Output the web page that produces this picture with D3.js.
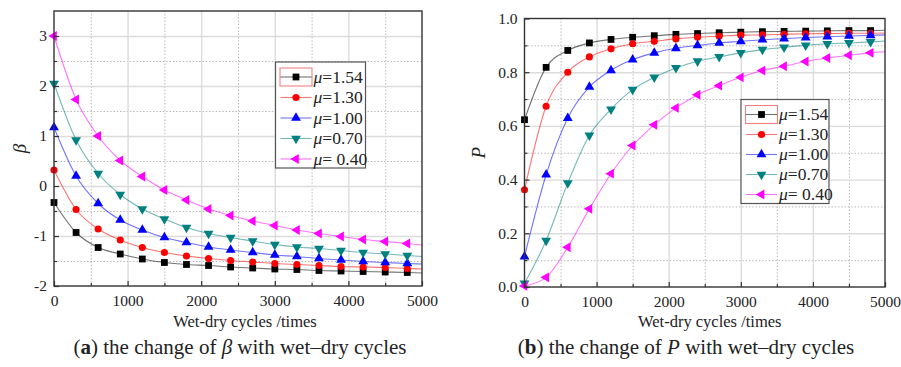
<!DOCTYPE html>
<html>
<head>
<meta charset="utf-8">
<script src="https://cdn.jsdelivr.net/npm/d3@7"></script>
<style>
  body { margin: 0; background: #fff; }
  text { font-family: "Liberation Serif", "Times New Roman", serif; fill: #222; }
</style>
</head>
<body>
<svg id="fig" width="901" height="367"></svg>
<script>
// data (markers every 300 cycles, curves run on to 5000)
const cycles = [0, 300, 600, 900, 1200, 1500, 1800, 2100, 2400, 2700, 3000, 3300, 3600, 3900, 4200, 4500, 4800];
const lineEndCycle = 5000;
const muLabels = ['1.54', '1.30', '1.00', '0.70', ' 0.40'];

const betaMu154 = [-0.33, -0.93, -1.23, -1.36, -1.46, -1.53, -1.57, -1.59, -1.62, -1.64, -1.66, -1.67, -1.69, -1.70, -1.71, -1.72, -1.73];
const betaMu130 = [0.32, -0.47, -0.86, -1.08, -1.23, -1.33, -1.40, -1.45, -1.49, -1.52, -1.55, -1.57, -1.59, -1.61, -1.62, -1.63, -1.65];
const betaMu100 = [1.17, 0.20, -0.35, -0.68, -0.88, -1.03, -1.13, -1.22, -1.28, -1.33, -1.38, -1.41, -1.45, -1.48, -1.51, -1.53, -1.55];
const betaMu070 = [2.05, 0.92, 0.25, -0.17, -0.46, -0.66, -0.83, -0.95, -1.03, -1.10, -1.17, -1.22, -1.25, -1.29, -1.33, -1.36, -1.39];
const betaMu040 = [3.00, 1.73, 1.00, 0.51, 0.19, -0.08, -0.28, -0.46, -0.59, -0.70, -0.79, -0.88, -0.95, -1.01, -1.07, -1.11, -1.15];
const betaAt5000 = [-1.74, -1.66, -1.56, -1.41, -1.18];

const pMu154 = [0.623, 0.818, 0.881, 0.909, 0.922, 0.930, 0.936, 0.941, 0.944, 0.947, 0.949, 0.951, 0.952, 0.953, 0.954, 0.955, 0.955];
const pMu130 = [0.362, 0.673, 0.800, 0.857, 0.887, 0.906, 0.915, 0.924, 0.930, 0.934, 0.938, 0.939, 0.941, 0.943, 0.944, 0.945, 0.945];
const pMu100 = [0.113, 0.418, 0.629, 0.745, 0.807, 0.847, 0.872, 0.889, 0.900, 0.909, 0.915, 0.921, 0.925, 0.929, 0.932, 0.935, 0.937];
const pMu070 = [0.014, 0.173, 0.387, 0.565, 0.662, 0.735, 0.781, 0.816, 0.841, 0.857, 0.872, 0.884, 0.893, 0.900, 0.906, 0.909, 0.913];
const pMu040 = [0.004, 0.036, 0.148, 0.291, 0.422, 0.527, 0.604, 0.667, 0.716, 0.750, 0.781, 0.806, 0.822, 0.840, 0.853, 0.863, 0.872];
const pAt5000 = [0.956, 0.946, 0.939, 0.916, 0.876];

const xTicks = [0, 1000, 2000, 3000, 4000, 5000];
const xMinorTicks = [500, 1500, 2500, 3500, 4500];
const betaTicks = [-2, -1, 0, 1, 2, 3];
const betaMinorTicks = [-1.5, -0.5, 0.5, 1.5, 2.5, 3.5];
const pTicks = [0, 0.2, 0.4, 0.6, 0.8, 1.0];
const pMinorTicks = [0.1, 0.3, 0.5, 0.7, 0.9];

// styles per series
const colors = ['#000000', '#ff0000', '#0000ff', '#008080', '#ff00ff'];
const symbols = [
  { type: d3.symbolSquare, size: 46, rot: 0 },
  { type: d3.symbolCircle, size: 40, rot: 0 },
  { type: d3.symbolTriangle, size: 42, rot: 0 },
  { type: d3.symbolTriangle, size: 42, rot: 180 },
  { type: d3.symbolTriangle, size: 42, rot: -90 }
];

const svg = d3.select('#fig');

const drawPanel = opt => {
  const x = d3.scaleLinear().domain([0, 5000]).range([opt.left, opt.right]);
  const y = d3.scaleLinear().domain(opt.yDomain).range([opt.bottom, opt.top]);
  const w = opt.right - opt.left;
  const h = opt.bottom - opt.top;
  const g = svg.append('g');

  // grid: minor dotted, major light solid
  const gridStyle = (sel, major) => {
    sel.select('.domain').remove();
    sel.selectAll('text').remove();
    sel.selectAll('line')
      .attr('stroke', major ? '#dcdcdc' : '#b0b0b0')
      .attr('stroke-width', major ? 1.4 : 0.9)
      .attr('stroke-dasharray', major ? null : '1.5,1.8');
  };
  g.append('g').attr('transform', `translate(0,${opt.bottom})`)
    .call(d3.axisBottom(x).tickValues(xMinorTicks).tickSize(-h)).call(s => gridStyle(s, false));
  g.append('g').attr('transform', `translate(${opt.left},0)`)
    .call(d3.axisLeft(y).tickValues(opt.yMinor.filter(v => v < opt.yDomain[1])).tickSize(-w)).call(s => gridStyle(s, false));
  g.append('g').attr('transform', `translate(0,${opt.bottom})`)
    .call(d3.axisBottom(x).tickValues(xTicks.slice(1, -1)).tickSize(-h)).call(s => gridStyle(s, true));
  g.append('g').attr('transform', `translate(${opt.left},0)`)
    .call(d3.axisLeft(y).tickValues(opt.yTicks.filter(v => v > opt.yDomain[0] && v < opt.yDomain[1])).tickSize(-w)).call(s => gridStyle(s, true));

  // curves + markers
  const line = d3.line().x(d => x(d[0])).y(d => y(d[1])).curve(d3.curveMonotoneX);
  opt.series.forEach((vals, i) => {
    const pts = cycles.map((c, k) => [c, vals[k]]).concat([[lineEndCycle, opt.ends[i]]]);
    g.append('path').datum(pts)
      .attr('d', line)
      .attr('fill', 'none')
      .attr('stroke', colors[i])
      .attr('stroke-opacity', 0.55)
      .attr('stroke-width', 1.1);
    g.selectAll(null).data(cycles.map((c, k) => [c, vals[k]])).enter()
      .append('path')
      .attr('d', d3.symbol().type(symbols[i].type).size(symbols[i].size))
      .attr('transform', d => `translate(${x(d[0])},${y(d[1])}) rotate(${symbols[i].rot})`)
      .attr('fill', colors[i]);
  });

  // frame
  g.append('rect')
    .attr('x', opt.left).attr('y', opt.top).attr('width', w).attr('height', h)
    .attr('fill', 'none').attr('stroke', '#333').attr('stroke-width', 1.4);

  // axes with inward ticks
  const yAxis = g.append('g').attr('transform', `translate(${opt.left},0)`)
    .call(d3.axisLeft(y).tickValues(opt.yTicks).tickSize(-5).tickPadding(7).tickFormat(opt.yFormat));
  const yMinorAxis = g.append('g').attr('transform', `translate(${opt.left},0)`)
    .call(d3.axisLeft(y).tickValues(opt.yMinor.filter(v => v < opt.yDomain[1])).tickSize(-3).tickFormat(''));
  const xAxis = g.append('g').attr('transform', `translate(0,${opt.bottom})`)
    .call(d3.axisBottom(x).tickValues(xTicks).tickSize(-5).tickPadding(9).tickFormat(d3.format('d')));
  const xMinorAxis = g.append('g').attr('transform', `translate(0,${opt.bottom})`)
    .call(d3.axisBottom(x).tickValues(xMinorTicks).tickSize(-3).tickFormat(''));
  [yAxis, yMinorAxis, xAxis, xMinorAxis].forEach(a => {
    a.select('.domain').remove();
    a.selectAll('line').attr('stroke', '#333').attr('stroke-width', 1.2);
    a.selectAll('text').attr('font-family', '"Liberation Serif", serif').attr('font-size', 15.5).attr('fill', '#222');
  });

  // axis titles
  g.append('text')
    .attr('x', (opt.left + opt.right) / 2 + opt.xTitleShift)
    .attr('y', 327)
    .attr('text-anchor', 'middle')
    .attr('font-size', 16.5)
    .text('Wet-dry cycles /times');
  g.append('text')
    .attr('transform', `translate(${opt.yTitleX},${(opt.top + opt.bottom) / 2}) rotate(-90)`)
    .attr('text-anchor', 'middle')
    .attr('font-size', 19)
    .attr('font-style', 'italic')
    .text(opt.yTitle);

  // legend
  const lg = opt.legend;
  g.append('rect')
    .attr('x', lg.x).attr('y', lg.y).attr('width', lg.w).attr('height', lg.h)
    .attr('fill', '#fff').attr('stroke', '#555').attr('stroke-width', 1.2);
  g.append('rect')
    .attr('x', lg.x + 4.5).attr('y', lg.y + lg.first - 9).attr('width', 32).attr('height', 18)
    .attr('fill', 'none').attr('stroke', '#f08080').attr('stroke-width', 1.1);
  muLabels.forEach((m, i) => {
    const cy = lg.y + lg.first + i * lg.step;
    g.append('line')
      .attr('x1', lg.x + 5).attr('x2', lg.x + 36).attr('y1', cy).attr('y2', cy)
      .attr('stroke', colors[i]).attr('stroke-opacity', 0.55).attr('stroke-width', 1.1);
    g.append('path')
      .attr('d', d3.symbol().type(symbols[i].type).size(symbols[i].size))
      .attr('transform', `translate(${lg.x + 20.5},${cy}) rotate(${symbols[i].rot})`)
      .attr('fill', colors[i]);
    const t = g.append('text')
      .attr('x', lg.x + 38).attr('y', cy + 5.5)
      .attr('font-size', 17.5);
    t.append('tspan').attr('font-style', 'italic').text('μ');
    t.append('tspan').attr('xml:space', 'preserve').text('=' + m);
  });

  // caption
  const cap = g.append('text')
    .attr('x', opt.captionX).attr('y', 354)
    .attr('text-anchor', 'middle')
    .attr('font-size', 21)
    .attr('fill', '#111')
    .attr('xml:space', 'preserve');
  cap.append('tspan').text('(');
  cap.append('tspan').attr('font-weight', 'bold').text(opt.captionLetter);
  cap.append('tspan').text(') the change of ');
  cap.append('tspan').attr('font-style', 'italic').text(opt.yTitle);
  cap.append('tspan').text(' with wet\u2013dry cycles');
};

drawPanel({
  left: 54, right: 422, top: 11, bottom: 286,
  yDomain: [-2, 3.5], yTicks: betaTicks, yMinor: betaMinorTicks,
  yFormat: d => String(d),
  series: [betaMu154, betaMu130, betaMu100, betaMu070, betaMu040],
  ends: betaAt5000,
  yTitle: 'β', yTitleX: 26, xTitleShift: 7,
  legend: { x: 275.5, y: 62, w: 90, h: 106, first: 15, step: 20.5 },
  captionLetter: 'a', captionX: 240
});

drawPanel({
  left: 524.5, right: 885, top: 18.5, bottom: 287,
  yDomain: [0, 1], yTicks: pTicks, yMinor: pMinorTicks,
  yFormat: d3.format('.1f'),
  series: [pMu154, pMu130, pMu100, pMu070, pMu040],
  ends: pAt5000,
  yTitle: 'P', yTitleX: 485, xTitleShift: 5,
  legend: { x: 741, y: 99.5, w: 88, h: 104, first: 15, step: 20 },
  captionLetter: 'b', captionX: 686
});
</script>
</body>
</html>
